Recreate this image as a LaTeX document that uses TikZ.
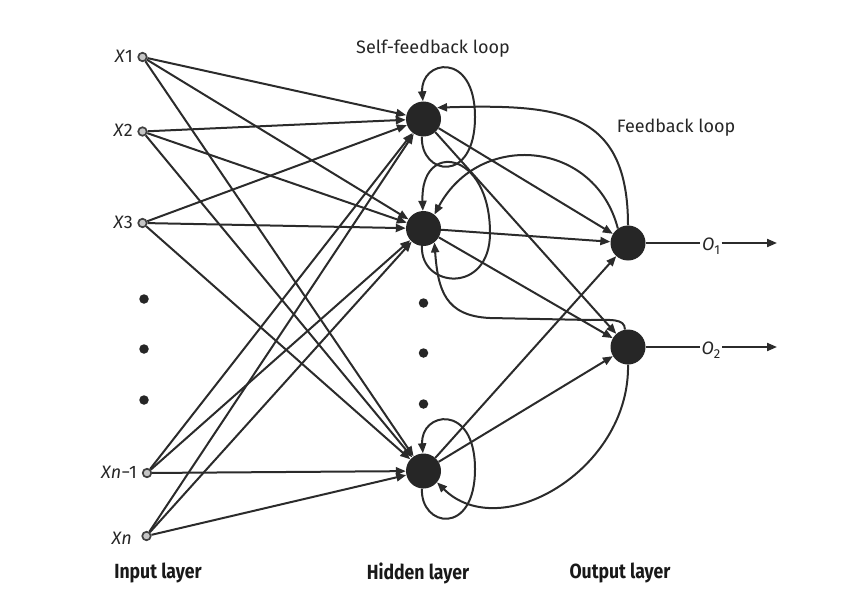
\documentclass[tikz,border=0pt]{standalone}
\usepackage{fontspec}
\setmainfont{Fira Sans}
\usetikzlibrary{arrows.meta}
\definecolor{linec}{HTML}{2B2B2B}
\definecolor{nodec}{HTML}{262626}
\begin{document}
\begin{tikzpicture}[x=1pt,y=-1pt,
  conn/.style={line width=2pt, draw=linec, -{Triangle[length=10pt,width=8pt]}},
  plain/.style={line width=2pt, draw=linec},
  innode/.style={circle, inner sep=0pt, minimum size=8.5pt, draw=black!75, line width=1.7pt, fill=gray!45},
  neuron/.style={circle, inner sep=0pt, minimum size=35pt, fill=nodec},
  dotn/.style={circle, inner sep=0pt, minimum size=9.5pt, fill=nodec},
  inlab/.style={anchor=east, inner sep=0pt, font=\fontsize{18}{18}\selectfont, text=black!85},
  toplab/.style={inner sep=0pt, font=\fontsize{18}{18}\selectfont, text=black!85},
  laylab/.style={inner sep=0pt, font=\fontsize{20.5}{20.5}\selectfont\bfseries, text=black!90},
  outlab/.style={inner sep=1.5pt, font=\fontsize{18}{18}\selectfont, text=black!85}
]
\useasboundingbox (0,0) rectangle (845,607);

% input nodes
\node[innode] (X1) at (142.5,57) {};
\node[innode] (X2) at (142.5,131.5) {};
\node[innode] (X3) at (142.5,223) {};
\node[innode] (Xm) at (147,473) {};
\node[innode] (Xn) at (146.5,536) {};
\node[inlab] (lX1) at (133,56) {\textit{X}1};
\node[inlab] (lX2) at (133,130.5) {\textit{X}2};
\node[inlab] (lX3) at (133,222) {\textit{X}3};
\node[inlab] (lXm) at (137,472) {\textit{Xn}−1};
\node[inlab] (lXn) at (132,538) {\textit{Xn}};
\node[dotn] (d1) at (144,299) {};
\node[dotn] (d2) at (144,349) {};
\node[dotn] (d3) at (144,400) {};

% hidden nodes
\node[neuron] (H1) at (423.5,119) {};
\node[neuron] (H2) at (423.5,228.5) {};
\node[neuron] (H3) at (423.5,471) {};
\node[dotn] (e1) at (423.5,303) {};
\node[dotn] (e2) at (423.5,353) {};
\node[dotn] (e3) at (423.5,404) {};

% output nodes
\node[neuron] (O1) at (628,243) {};
\node[neuron] (O2) at (628,347) {};
\node[outlab] (lO1) at (711,246) {\textit{O}\raisebox{-4.5pt}{\fontsize{13}{13}\selectfont 1}};
\node[outlab] (lO2) at (711,350) {\textit{O}\raisebox{-4.5pt}{\fontsize{13}{13}\selectfont 2}};
\coordinate (oe1) at (777,243);
\coordinate (oe2) at (777,347);
\draw[plain] (O1) -- (lO1.west |- O1);
\draw[conn] (lO1.east |- O1) -- (oe1);
\draw[plain] (O2) -- (lO2.west |- O2);
\draw[conn] (lO2.east |- O2) -- (oe2);

% input -> hidden
\foreach \i in {X1,X2,X3,Xm,Xn}{
  \foreach \h in {H1,H2,H3}{
    \draw[conn] (\i) -- (\h);
  }
}

% hidden -> output
\foreach \h in {H1,H2,H3}{
  \foreach \o in {O1,O2}{
    \draw[conn] (\h) -- (\o);
  }
}

% self-feedback loops
\draw[conn] (H1.-95) .. controls (420,175) and (475,185) .. (475,117)
  .. controls (475,50) and (420,60) .. (H1.92);
\draw[conn] (H2.-95) .. controls (420,288) and (490,295) .. (490,233)
  .. controls (490,150) and (420,140) .. (H2.92);
\draw[conn] (H3.-95) .. controls (420,527) and (475,537) .. (475,469)
  .. controls (475,402) and (420,412) .. (H3.92);

% feedback loops
\draw[conn] (O1.north) .. controls (628,110) and (560,104) .. (H1.40);
\draw[conn] (O1.125) .. controls (595,140) and (480,130) .. (H2.52);
\draw[conn] (O2.100) .. controls (625,318) and (610,320) .. (590,320)
  -- (490,318) .. controls (445,316) and (438,290) .. (H2.-52);
\draw[conn] (O2.south) .. controls (630,470) and (500,545) .. (H3.-40);

% labels
\node[toplab] (sfl) at (433,49) {Self-feedback loop};
\node[toplab] (fbl) at (676,128) {Feedback loop};
\node[laylab] (il) at (158,573) {\scalebox{0.86}[1]{Input layer}};
\node[laylab] (hl) at (418,573) {\scalebox{0.86}[1]{Hidden layer}};
\node[laylab] (ol) at (620,573) {\scalebox{0.86}[1]{Output layer}};
\end{tikzpicture}
\end{document}
